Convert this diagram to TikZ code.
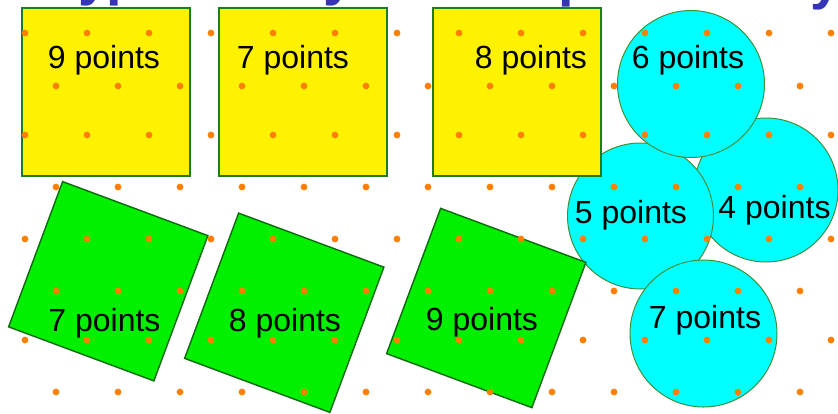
\documentclass[tikz,border=0pt]{standalone}
\usepackage{fontspec}
\setmainfont{Liberation Sans}
\definecolor{dotc}{HTML}{FF8000}
\definecolor{ybord}{HTML}{1E7B1E}
\definecolor{gbord}{HTML}{0B6A0B}
\definecolor{gfill}{HTML}{00F000}
\definecolor{cbord}{HTML}{3F8F3F}
\definecolor{cfill}{HTML}{00FFFF}
\definecolor{titlec}{HTML}{3535B5}
\begin{document}
\begin{tikzpicture}[x=1pt,y=-1pt,
  ysq/.style={rectangle, draw=ybord, line width=2pt, fill=yellow, minimum size=168pt, inner sep=0pt},
  gsq/.style={rectangle, draw=gbord, line width=1.4pt, fill=gfill, minimum size=155pt, inner sep=0pt, rotate=-20.4},
  cyc/.style={circle, draw=cbord, line width=1pt, fill=cfill, inner sep=0pt},
  lbl/.style={anchor=base, inner sep=0pt, font=\fontsize{32}{38}\selectfont},
  ptdot/.style={circle, fill=dotc, inner sep=0pt, minimum size=6.8pt},
  ttl/.style={anchor=base west, inner sep=0pt, text=titlec, font=\fontsize{56}{60}\selectfont\bfseries}]
\useasboundingbox (0,0) rectangle (838,413);
\clip (0,0) rectangle (838,413);
% title fragments (only their descenders show)
\node[ttl] (t1) at (78,-6) {y};
\node[ttl] (t2) at (106,-6) {p};
\node[ttl] (t3) at (323,-6) {y};
\node[ttl] (t4) at (558,-5) {p};
\node[ttl] (t5) at (810,-2) {y};
% circles
\node[cyc, minimum size=144pt] (c4) at (766,190) {};
\node[lbl] (l4) at (774.5,218) {4 points};
\node[cyc, minimum size=146pt] (c5) at (640.5,216) {};
\node[lbl] (l5) at (631,223) {5 points};
\node[cyc, minimum size=147pt] (c6) at (691,84) {};
\node[lbl] (l6) at (688,68) {6 points};
\node[cyc, minimum size=147pt] (c7) at (703.5,333.5) {};
\node[lbl] (l7) at (705,328) {7 points};
% yellow squares
\node[ysq] (y1) at (106,92) {};
\node[lbl] (ly1) at (104,68) {9 points};
\node[ysq] (y2) at (303,92) {};
\node[lbl] (ly2) at (293,68) {7 points};
\node[ysq] (y3) at (516.5,92) {};
\node[lbl] (ly3) at (531,68) {8 points};
% green squares
\node[gsq] (g1) at (108.25,281.25) {};
\node[lbl] (lg1) at (104.5,331) {7 points};
\node[gsq] (g2) at (284.25,312.75) {};
\node[lbl] (lg2) at (285,331) {8 points};
\node[gsq] (g3) at (486.25,308) {};
\node[lbl] (lg3) at (482,330) {9 points};
% dot lattice
\foreach \yy/\off [count=\r] in {33/25,86/56,135/25,187/56,239/25,291/56,340/25,392/56} {
  \foreach \k in {0,...,13} {
    \pgfmathsetmacro\xx{\off+62*\k}
    \ifdim\xx pt<838pt \node[ptdot] (d\r-\k) at (\xx,\yy) {}; \fi
  }
}
\end{tikzpicture}
\end{document}
